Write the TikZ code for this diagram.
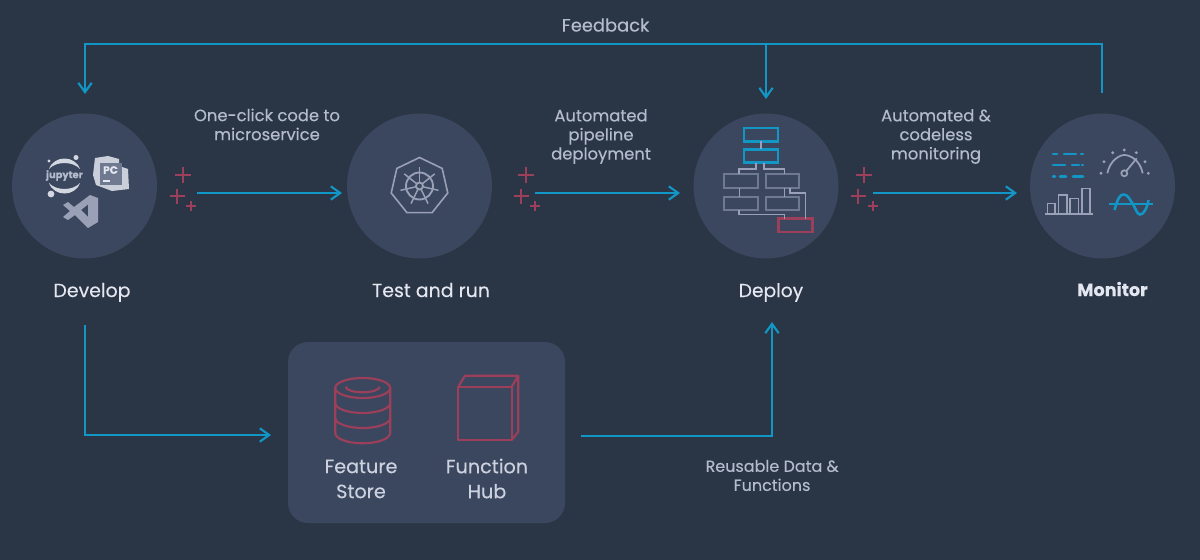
\documentclass[tikz,border=0pt]{standalone}
\usepackage{fontspec}
\setmainfont{Poppins}[FakeBold=0.3]
\usetikzlibrary{arrows.meta,shapes.geometric}
\definecolor{bgc}{HTML}{2A3545}
\definecolor{disc}{HTML}{3B475E}
\definecolor{flowc}{HTML}{1296C6}
\definecolor{redc}{HTML}{9C3F5A}
\definecolor{txtc}{HTML}{E4E7F0}
\definecolor{subc}{HTML}{B4BBCD}
\definecolor{greyc}{HTML}{9AA1B6}
\definecolor{boxg}{HTML}{6F7990}
\tikzset{
  x=0.75pt,y=-0.75pt,
  stage/.style={circle,fill=disc,minimum size=108.75pt,inner sep=0pt},
  panel/.style={fill=disc,rounded corners=15pt},
  flow/.style={draw=flowc,line width=1.9pt,-{Straight Barb[length=7pt,width=10pt,line width=1.6pt]}},
  title/.style={text=txtc,inner sep=0pt,align=center,anchor=base},
  sub/.style={text=subc,font=\fontsize{12.3}{14.3}\selectfont,inner sep=0pt,align=center},
  plusline/.style={draw=redc,line width=1.7pt},
  redline/.style={draw=redc,line width=1.6pt},
  greyline/.style={draw=greyc,line width=1.2pt},
  chartbox/.style={draw=boxg,line width=1.6pt},
  bluebox/.style={draw=flowc,line width=1.9pt},
  bluedash/.style={draw=flowc,line width=1.9pt,line cap=round},
}
\newcommand{\plusmark}[3]{\draw[plusline] (#1-#3,#2)--(#1+#3,#2) (#1,#2-#3)--(#1,#2+#3);}
\begin{document}
\begin{tikzpicture}
\fill[bgc] (0,0) rectangle (1200,560);
\useasboundingbox (0,0) rectangle (1200,560);

% stages
\node[stage] (develop) at (84.5,186) {};
\node[stage] (test) at (419.5,186) {};
\node[stage] (deploy) at (766,186) {};
\node[stage] (monitor) at (1102.5,186) {};
\fill[panel] (288,342) rectangle (565,523);
\node[inner sep=0pt,minimum width=207.75pt,minimum height=135.75pt] (hub) at (426.5,432.5) {};

% connector ends
\coordinate (a1) at (197,193); \coordinate (a2) at (342,193);
\coordinate (b1) at (535,193); \coordinate (b2) at (680,193);
\coordinate (c1) at (873,193); \coordinate (c2) at (1017,193);
\coordinate (fbstart) at (1102,93); \coordinate (fbtr) at (1102,44);
\coordinate (fbtl) at (85,44); \coordinate (fbend) at (85,94);
\coordinate (fbmid) at (766,44); \coordinate (fbdep) at (766,99);
\coordinate (d1) at (85,325); \coordinate (d2) at (85,435); \coordinate (d3) at (271,435);
\coordinate (e1) at (581,436); \coordinate (e2) at (772,436); \coordinate (e3) at (772,322);

\draw[flow] (a1)--(a2);
\draw[flow] (b1)--(b2);
\draw[flow] (c1)--(c2);
\draw[flow] (fbstart)--(fbtr)--(fbtl)--(fbend);
\draw[flow] (fbmid)--(fbdep);
\draw[flow] (d1)--(d2)--(d3);
\draw[flow] (e1)--(e2)--(e3);

% plus marks
\plusmark{183}{175}{8}\plusmark{177}{196}{7.5}\plusmark{191}{206}{5}
\plusmark{526}{175}{8}\plusmark{521}{196}{7.5}\plusmark{535}{206}{5}
\plusmark{864}{175}{8}\plusmark{858}{196}{7.5}\plusmark{873}{206}{5}

% labels
\node[title,font=\fontsize{14.2}{15}\selectfont] (ldev) at (92,297) {Develop};
\node[title,font=\fontsize{14.2}{15}\selectfont] (ltest) at (431,297) {Test and run};
\node[title,font=\fontsize{14}{15}\selectfont] (ldep) at (771,297) {Deploy};
\node[title,font=\fontsize{13.2}{15}\selectfont\bfseries] (lmon) at (1112.5,296) {Monitor};
\node[sub,font=\fontsize{13.4}{15}\selectfont] (lfb) at (605.5,25) {Feedback};
\node[sub] (l1) at (267,124.5) {One-click code to\\microservice};
\node[sub] (l2) at (601,136.5) {Automated\\pipeline\\deployment};
\node[sub] (l3) at (936,136.5) {Automated \&\\codeless\\monitoring};
\node[sub,font=\fontsize{12}{14.3}\selectfont] (l4) at (772,475.5) {Reusable Data \&\\Functions};
\node[title,anchor=center,text=subc!50!txtc,font=\fontsize{14.4}{18.75}\selectfont] (lfs) at (361,479) {Feature\\Store};
\node[title,anchor=center,text=subc!50!txtc,font=\fontsize{14.4}{18.75}\selectfont] (lfh) at (487,478.5) {Function\\Hub};

% jupyter
\fill[txtc!90!disc] (49,169) .. controls (54,155) and (75,155) .. (80,169) .. controls (73,161) and (56,161) .. (49,169) -- cycle;
\fill[txtc!90!disc] (49,183) .. controls (54,197) and (75,197) .. (80,183) .. controls (73,191) and (56,191) .. (49,183) -- cycle;
\fill[txtc!90!disc] (76,157.5) circle (2.5) (49,161) circle (1.7) (51,194) circle (3.4);
\node[text=subc,inner sep=0pt,font=\fontsize{7.4}{8}\selectfont\bfseries] (jup) at (64.5,175.5) {jupyter};

% pycharm
\fill[txtc!85!disc] (95,158)--(108,156)--(119,159)--(119,166)--(128,169)--(129,189)--(112,191)--(96,185)--(93,175)--cycle;
\fill[boxg] (100,163) rectangle (122,185);
\node[text=txtc,inner sep=0pt,font=\fontsize{8}{9}\selectfont\bfseries] (pc) at (110.5,170) {PC};
\draw[txtc,line width=0.9pt] (103,181)--(110,181);

% vs code
\fill[greyc,even odd rule] (63,205)--(68,202)--(74,207)--(90,195)--(98,198)--(98,222)--(88,228)--(75,215)--(68,220)--(63,217)--(70,211)--cycle
 (81,210)--(88,204.5)--(88,217)--cycle;

% kubernetes
\node[regular polygon,regular polygon sides=7,draw=greyc,line width=1.2pt,minimum size=43.5pt,inner sep=0pt] (kube) at (419.5,186.5) {};
\draw[greyc,line width=1.4pt] (419.5,186) circle (13.5) (419.5,186) circle (3.5);
\foreach \a in {0,51.43,...,360}{
  \draw[greyc,line width=1.1pt] ({419.5+3.5*sin(\a)},{186-3.5*cos(\a)})--({419.5+19.5*sin(\a)},{186-19.5*cos(\a)});
}

% flow chart
\draw[bluebox] (744,128) rectangle (778,141.3);
\draw[bluebox] (744,149.3) rectangle (778,162.7);
\draw[chartbox] (724,174) rectangle (757.7,187.7);
\draw[chartbox] (765.7,174) rectangle (799.3,187.7);
\draw[chartbox] (724,196.7) rectangle (757.7,210.3);
\draw[chartbox] (765.7,196.7) rectangle (799.3,210.3);
\draw[redline,line width=1.9pt] (778.7,218.7) rectangle (812.3,232);
\draw[greyline] (760.7,141.3)--(760.7,149.3);
\draw[greyline] (756,162.7)--(756,169)--(739,169)--(739,174);
\draw[greyline] (764,162.7)--(764,169)--(784.3,169)--(784.3,174);
\draw[greyline] (739.3,187.7)--(739.3,196.7);
\draw[greyline] (784.3,187.7)--(784.3,196.7);
\draw[greyline] (790,187.7)--(790,192.7)--(805.3,192.7)--(805.3,218.7);
\draw[greyline] (739,210.3)--(739,214.3)--(784.3,214.3)--(784.3,218.7);

% monitor icons
\draw[bluedash] (1053,154)--(1057,154) (1064,154)--(1076,154) (1081,154)--(1083,154);
\draw[bluedash] (1053,165)--(1065,165) (1072,165)--(1079,165) (1082,165)--(1083,165);
\draw[bluedash] (1053,176.7)--(1055,176.7) (1060,176.7)--(1066,176.7) (1073,176.7)--(1083,176.7);
% gauge
\draw[greyc,line width=1.3pt] (1107.3,173.3) .. controls (1110,160) and (1120,155) .. (1124.3,155) .. controls (1130,155) and (1140,160) .. (1142.7,173.3);
\draw[greyc,line width=1.3pt,fill=disc] (1124.3,173.3) circle (3);
\draw[greyc,line width=1.3pt] (1126.3,171)--(1136.7,158.3);
\fill[greyc] (1101,173.3) circle (1.6) (1104,161.7) circle (1.6) (1112.7,152.7) circle (1.6) (1124.3,150) circle (1.6) (1136.3,152.7) circle (1.6) (1145,161.7) circle (1.6) (1148.3,173.3) circle (1.6);
% bars
\draw[greyc,line width=1.2pt] (1045,213.7)--(1093,213.7);
\draw[greyc,line width=1.2pt] (1047.3,213.7)--(1047.3,203.3)--(1055,203.3)--(1055,213.7)
  (1058.3,213.7)--(1058.3,195)--(1066.7,195)--(1066.7,213.7)
  (1070,213.7)--(1070,198.3)--(1078.3,198.3)--(1078.3,213.7)
  (1081.7,213.7)--(1081.7,188.3)--(1090,188.3)--(1090,213.7);
% sine
\draw[flowc,line width=1.4pt] (1109.3,204.3)--(1152.7,204.3);
\draw[flowc,line width=1.9pt] (1114.5,210) .. controls (1118,198) and (1120,194.5) .. (1123.5,194.5) .. controls (1128,194.5) and (1130,200) .. (1133,204.3) .. controls (1136,209) and (1137,214.5) .. (1140,214.5) .. controls (1144,214.5) and (1147,208) .. (1148.5,200);

% cylinder
\draw[redline] (362.7,388) ellipse [x radius=27.5,y radius=10];
\draw[redline] (335.2,388)--(335.2,433) arc[start angle=180,end angle=0,x radius=27.5,y radius=10.3]--(390.2,388);
\draw[redline] (335.2,403) arc[start angle=180,end angle=0,x radius=27.5,y radius=10];
\draw[redline] (335.2,418) arc[start angle=180,end angle=0,x radius=27.5,y radius=10];
\draw[redline] (345.7,386.7) arc[start angle=180,end angle=0,x radius=17,y radius=5.6];

% cube
\draw[redline,line join=round] (458.3,386.7) rectangle (511.7,440);
\draw[redline,line join=round] (458.3,386.7)--(465,375.7)--(518.3,375.7)--(518.3,431.7)--(511.7,440) (511.7,386.7)--(518.3,375.7);
\end{tikzpicture}
\end{document}
